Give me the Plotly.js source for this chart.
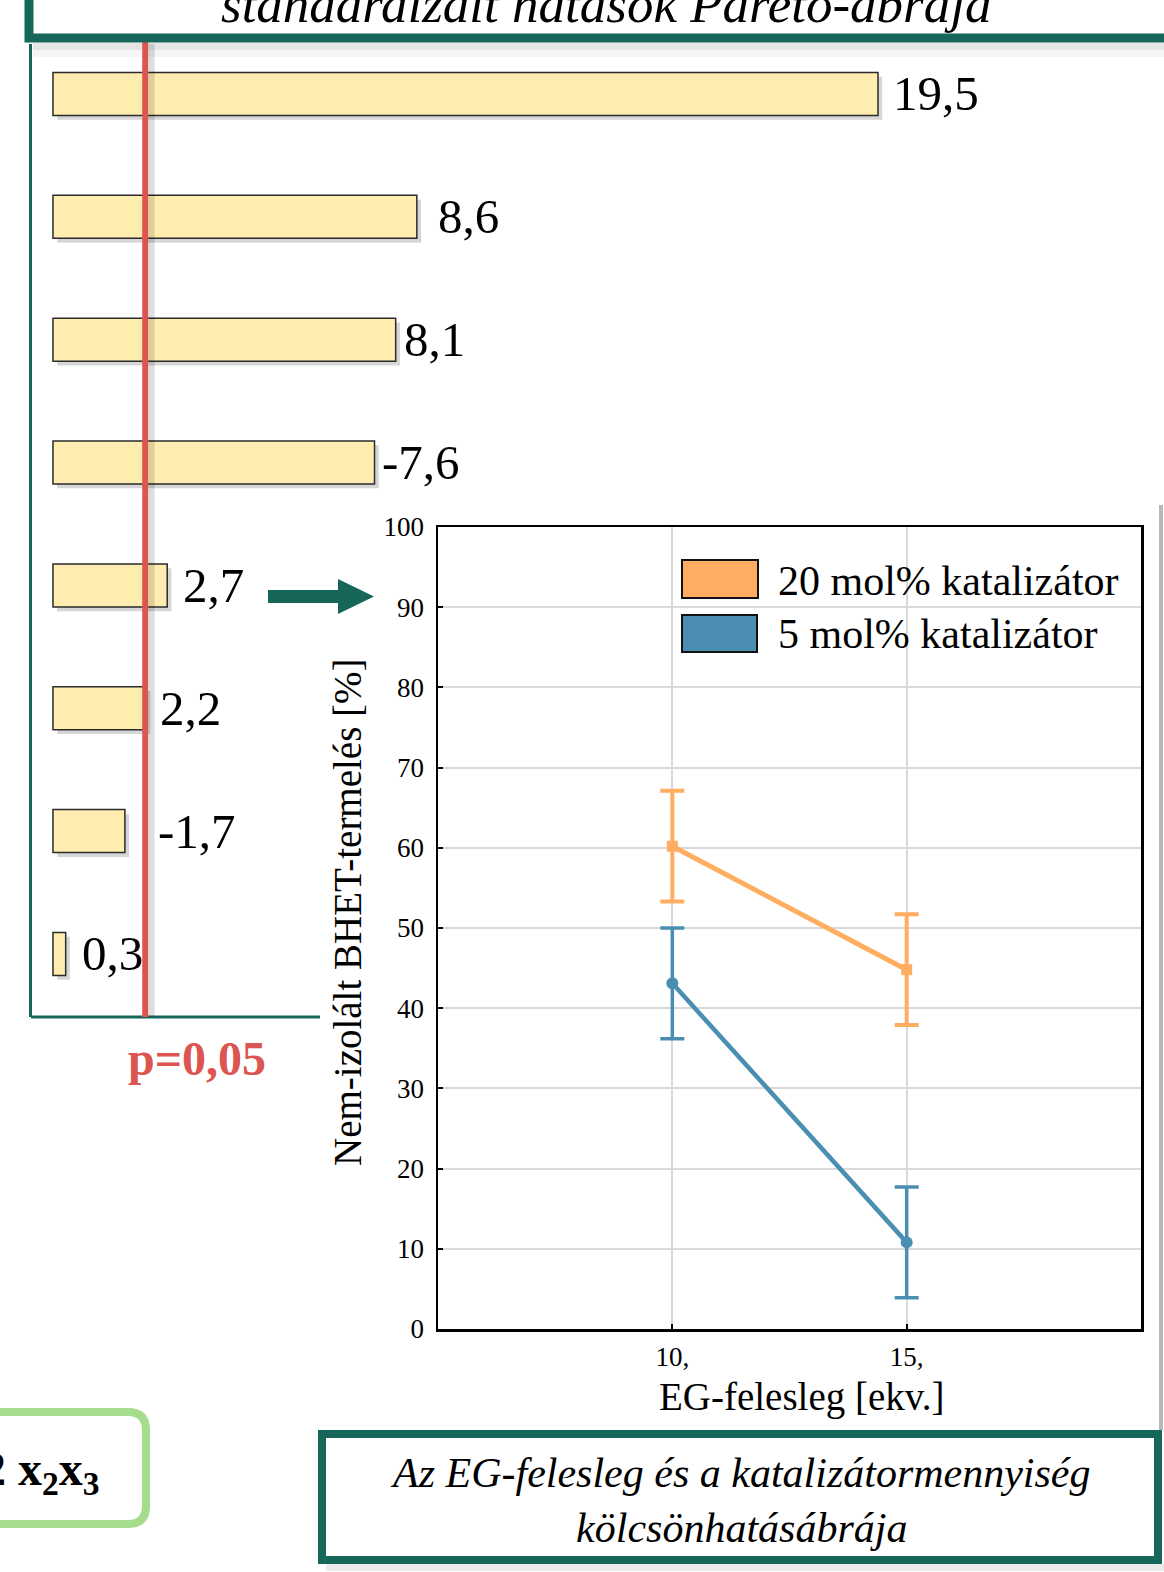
<!DOCTYPE html>
<html>
<head>
<meta charset="utf-8">
<script src="https://cdn.plot.ly/plotly-3.0.1.min.js"></script>
<style>
  html, body { margin: 0; padding: 0; background: #ffffff; }
  #chart { width: 1164px; height: 1572px; }
</style>
</head>
<body>
<div id="chart"></div>
<script>
// ---------------- DATA ----------------
const paretoTitle = 'standardizált hatások Pareto-ábrája';
const effectValues = [19.5, 8.6, 8.1, -7.6, 2.7, 2.2, -1.7, 0.3];
const pCritical = 2.18;
const pLabel = 'p=0,05';

const egExcess = [10, 15];
const egTickText = ['10,', '15,'];
const seriesNames = ['20 mol% katalizátor', '5 mol% katalizátor'];
const yield20 = [60.2, 44.8];
const err20 = [6.9, 6.9];
const yield5 = [43.1, 10.8];
const err5 = [6.9, 6.9];
const yTicks = [0, 10, 20, 30, 40, 50, 60, 70, 80, 90, 100];

const xTitle = 'EG-felesleg [ekv.]';
const yTitle = 'Nem-izolált BHET-termelés [%]';
const captionLines = ['Az EG-felesleg és a katalizátormennyiség', 'kölcsönhatásábrája'];
const equationText = '2 x<sub>2</sub>x<sub>3</sub>';

// ---------------- HELPERS ----------------
const W = 1164, H = 1572;
const px = x => x / W;
const py = y => 1 - y / H;
const GREEN = '#17665a';
const RED = '#dc5550';
const ORANGE = '#ffad60';
const BLUE = '#4a8eb2';
const SERIF = '"Liberation Serif", "Times New Roman", serif';
const fmt = v => v.toFixed(1).replace('.', ',');
const idx = effectValues.map((_, i) => i);
// label spacing (px) after each bar end, as placed in the original
const labelGap = [15, 21, 8, 7, 16, 14, 33, 16];
const BAR_W = 0.35;

// ---------------- TRACES ----------------
const traces = [
  { // soft drop shadow under each bar
    type: 'bar', orientation: 'h',
    x: effectValues.map(Math.abs), y: idx, base: 0.1,
    width: BAR_W, offset: -BAR_W / 2 + 0.035,
    xaxis: 'x', yaxis: 'y',
    marker: { color: 'rgba(0,0,0,0.16)', line: { width: 0 } },
    hoverinfo: 'skip', showlegend: false
  },
  {
    type: 'bar', orientation: 'h',
    x: effectValues.map(Math.abs), y: idx,
    width: BAR_W,
    xaxis: 'x', yaxis: 'y',
    marker: { color: '#ffedb0', line: { color: '#2b2b2b', width: 1.5 } },
    hoverinfo: 'skip', showlegend: false
  },
  {
    type: 'scatter', mode: 'lines+markers', name: seriesNames[1],
    x: egExcess, y: yield5, xaxis: 'x2', yaxis: 'y2',
    line: { color: BLUE, width: 4.5 },
    marker: { color: BLUE, size: 12, symbol: 'circle' },
    error_y: { type: 'data', array: err5, color: BLUE, thickness: 3.5, width: 12 },
    showlegend: false
  },
  {
    type: 'scatter', mode: 'lines+markers', name: seriesNames[0],
    x: egExcess, y: yield20, xaxis: 'x2', yaxis: 'y2',
    line: { color: ORANGE, width: 5 },
    marker: { color: ORANGE, size: 11, symbol: 'square' },
    error_y: { type: 'data', array: err20, color: ORANGE, thickness: 4, width: 12 },
    showlegend: false
  }
];

// ---------------- ANNOTATIONS ----------------
const annotations = [];
annotations.push({
  xref: 'paper', yref: 'paper', x: px(606), y: py(35), xanchor: 'center', yanchor: 'bottom',
  text: '<i>' + paretoTitle + '</i>', showarrow: false,
  font: { family: SERIF, size: 53, color: '#000' }
});
effectValues.forEach((v, i) => {
  annotations.push({
    xref: 'x', yref: 'y', x: Math.abs(v), y: i, xanchor: 'left', yanchor: 'middle',
    xshift: labelGap[i] - 2, yshift: 0,
    text: fmt(v), showarrow: false,
    font: { family: SERIF, size: 49, color: '#000' }
  });
});
annotations.push({
  xref: 'paper', yref: 'paper', x: px(197), y: py(1058), xanchor: 'center', yanchor: 'middle',
  text: '<b>' + pLabel + '</b>', showarrow: false,
  font: { family: SERIF, size: 48, color: RED }
});
annotations.push({
  xref: 'paper', yref: 'paper', x: px(776), y: py(581), xanchor: 'left', yanchor: 'middle',
  text: seriesNames[0], showarrow: false, font: { family: SERIF, size: 42, color: '#000' }
});
annotations.push({
  xref: 'paper', yref: 'paper', x: px(776), y: py(634), xanchor: 'left', yanchor: 'middle',
  text: seriesNames[1], showarrow: false, font: { family: SERIF, size: 42, color: '#000' }
});
annotations.push({
  xref: 'paper', yref: 'paper', x: px(802), y: py(1397), xanchor: 'center', yanchor: 'middle',
  text: xTitle, showarrow: false, font: { family: SERIF, size: 39, color: '#000' }
});
annotations.push({
  xref: 'paper', yref: 'paper', x: px(347), y: py(912), xanchor: 'center', yanchor: 'middle',
  text: yTitle, textangle: -90, showarrow: false, font: { family: SERIF, size: 39, color: '#000' }
});
annotations.push({
  xref: 'paper', yref: 'paper', x: px(740), y: py(1500), xanchor: 'center', yanchor: 'middle',
  text: '<i>' + captionLines.join('<br>') + '</i>', showarrow: false,
  font: { family: SERIF, size: 42, color: '#000' }
});
annotations.push({
  xref: 'paper', yref: 'paper', x: px(102), y: py(1472), xanchor: 'right', yanchor: 'middle',
  text: '<b>' + equationText + '</b>', showarrow: false,
  font: { family: SERIF, size: 48, color: '#000' }
});

// ---------------- SHAPES ----------------
const P = (x, y) => px(x) + ',' + py(y);
const shapes = [
  // title box shadow
  { type: 'rect', xref: 'paper', yref: 'paper', x0: px(33), x1: px(1170), y0: py(43), y1: py(50),
    fillcolor: 'rgba(0,0,0,0.10)', line: { width: 0 }, layer: 'below' },
  { type: 'rect', xref: 'paper', yref: 'paper', x0: px(33), x1: px(1170), y0: py(50), y1: py(57),
    fillcolor: 'rgba(0,0,0,0.04)', line: { width: 0 }, layer: 'below' },
  // pareto bottom frame line
  { type: 'line', xref: 'paper', yref: 'paper', x0: px(31), x1: px(320), y0: py(1017), y1: py(1017),
    line: { color: GREEN, width: 3 }, layer: 'below' },
  // critical line shadow + line
  { type: 'line', xref: 'x', yref: 'paper', x0: pCritical + 0.15, x1: pCritical + 0.15, y0: py(44), y1: py(1017),
    line: { color: 'rgba(0,0,0,0.13)', width: 6 }, layer: 'above' },
  { type: 'line', xref: 'x', yref: 'paper', x0: pCritical, x1: pCritical, y0: py(40), y1: py(1017),
    line: { color: RED, width: 6 }, layer: 'above' },
  // title box
  { type: 'rect', xref: 'paper', yref: 'paper', x0: px(29), x1: px(1190), y0: py(-80), y1: py(38),
    fillcolor: 'rgba(255,255,255,0)', line: { color: GREEN, width: 9 }, layer: 'above' },
  // inset background and shadow
  { type: 'rect', xref: 'paper', yref: 'paper', x0: px(320), x1: px(1159), y0: py(503), y1: py(1430),
    fillcolor: '#ffffff', line: { width: 0 }, layer: 'below' },
  { type: 'line', xref: 'paper', yref: 'paper', x0: px(1161), x1: px(1161), y0: py(505), y1: py(1430),
    line: { color: 'rgba(0,0,0,0.28)', width: 4 }, layer: 'below' },
  // arrow
  { type: 'path', xref: 'paper', yref: 'paper',
    path: 'M' + P(268, 590) + ' L' + P(338, 590) + ' L' + P(338, 579) + ' L' + P(374, 596.5) +
          ' L' + P(338, 614) + ' L' + P(338, 603) + ' L' + P(268, 603) + ' Z',
    fillcolor: GREEN, line: { width: 0 }, layer: 'above' },
  // legend swatches
  { type: 'rect', xref: 'paper', yref: 'paper', x0: px(682), x1: px(758), y0: py(560), y1: py(598),
    fillcolor: ORANGE, line: { color: '#111', width: 2 }, layer: 'above' },
  { type: 'rect', xref: 'paper', yref: 'paper', x0: px(682), x1: px(757), y0: py(615), y1: py(652),
    fillcolor: BLUE, line: { color: '#111', width: 2 }, layer: 'above' },
  // caption box shadow + box
  { type: 'rect', xref: 'paper', yref: 'paper', x0: px(326), x1: px(1164), y0: py(1564), y1: py(1571),
    fillcolor: 'rgba(0,0,0,0.08)', line: { width: 0 }, layer: 'below' },
  { type: 'rect', xref: 'paper', yref: 'paper', x0: px(322), x1: px(1158), y0: py(1434), y1: py(1560),
    fillcolor: '#ffffff', line: { color: GREEN, width: 8 }, layer: 'below' },
  // rounded equation box
  { type: 'path', xref: 'paper', yref: 'paper',
    path: 'M' + P(-30, 1412) + ' L' + P(128, 1412) + ' Q' + P(146, 1412) + ' ' + P(146, 1430) +
          ' L' + P(146, 1506) + ' Q' + P(146, 1524) + ' ' + P(128, 1524) + ' L' + P(-30, 1524) + ' Z',
    fillcolor: '#ffffff', line: { color: '#a6dc8e', width: 8 }, layer: 'below' }
];

// ---------------- LAYOUT ----------------
const axisFont = { family: SERIF, size: 27, color: '#000' };
const layout = {
  width: W, height: H,
  margin: { l: 0, r: 0, t: 0, b: 0, pad: 0 },
  paper_bgcolor: '#ffffff',
  plot_bgcolor: 'rgba(0,0,0,0)',
  showlegend: false,
  barmode: 'overlay',
  font: { family: SERIF, color: '#000' },
  xaxis: {
    domain: [px(32), 1], anchor: 'y', range: [-0.496, 26.26],
    showline: false, showgrid: false, zeroline: false, showticklabels: false, ticks: '', fixedrange: true
  },
  yaxis: {
    domain: [py(1017), py(44)], anchor: 'x', range: [7.513, -0.407],
    showline: true, linecolor: GREEN, linewidth: 3, mirror: false,
    showgrid: false, zeroline: false, showticklabels: false, ticks: '', fixedrange: true
  },
  xaxis2: {
    domain: [px(438), px(1141)], anchor: 'y2', range: [5, 20],
    tickvals: egExcess, ticktext: egTickText, tickfont: axisFont, ticklabelstandoff: 2,
    ticks: 'inside', ticklen: 5, tickwidth: 2, tickcolor: '#000',
    showline: true, linecolor: '#000', linewidth: 2.5, mirror: true,
    showgrid: true, gridcolor: '#d9d9d9', gridwidth: 2, zeroline: false
  },
  yaxis2: {
    domain: [py(1329), py(527)], anchor: 'x2', range: [0, 100],
    tickvals: yTicks, tickfont: axisFont, ticklabelstandoff: 6,
    ticks: 'inside', ticklen: 5, tickwidth: 2, tickcolor: '#000',
    showline: true, linecolor: '#000', linewidth: 2.5, mirror: true,
    showgrid: true, gridcolor: '#d9d9d9', gridwidth: 2, zeroline: false
  },
  yaxis3: {
    overlaying: 'y2', anchor: 'x2', side: 'right', range: [0.66, 88.8], dtick: 10,
    ticks: 'inside', ticklen: 5, tickwidth: 2, tickcolor: '#000',
    showticklabels: false, showgrid: false, zeroline: false, showline: false
  },
  shapes: shapes,
  annotations: annotations
};

Plotly.newPlot('chart', traces, layout, { staticPlot: true, displayModeBar: false });
</script>
</body>
</html>
